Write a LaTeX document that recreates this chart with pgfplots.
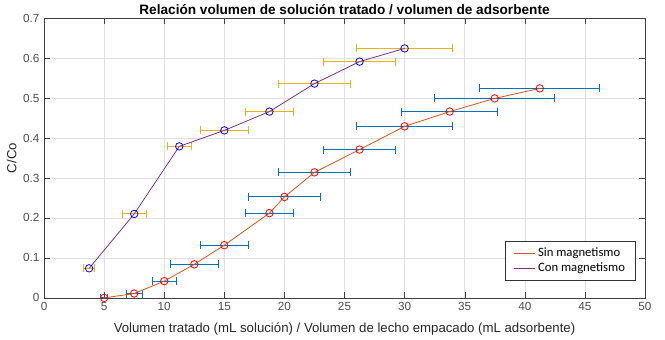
\documentclass[border=0pt]{standalone}
\usepackage{pgfplots}
\pgfplotsset{compat=1.18}
\usepackage{pgfplotstable}
\usepackage{fontspec}
\setmainfont{Liberation Sans}
\newfontfamily\legfont{Carlito}
\definecolor{morange}{rgb}{0.85,0.325,0.098}
\definecolor{mpurple}{rgb}{0.494,0.184,0.556}
\definecolor{mblue}{rgb}{0,0.447,0.741}
\definecolor{myellow}{rgb}{0.929,0.694,0.125}
\definecolor{tickgray}{RGB}{77,77,77}

\pgfplotstableread{
x y ex
5 0 0.3
7.5 0.011 0.65
10 0.042 1.0
12.5 0.084 2.0
15 0.132 2.0
18.75 0.212 2.0
20 0.2525 3.0
22.5 0.314 3.0
26.25 0.371 3.0
30 0.429 4.0
33.75 0.466 4.0
37.5 0.499 5.0
41.25 0.524 5.0
}\sinmag

\pgfplotstableread{
x y ex
3.75 0.074 0.46
7.5 0.21 1.0
11.25 0.379 1.0
15 0.419 2.0
18.75 0.466 2.0
22.5 0.536 3.0
26.25 0.591 3.0
30 0.624 4.0
}\conmag

\begin{document}
\begin{tikzpicture}
\begin{axis}[
  scale only axis, width=450pt, height=209.6pt,
  xmin=0, xmax=50, ymin=0, ymax=0.7,
  xtick={0,5,...,50}, ytick={0,0.1,0.2,0.3,0.4,0.5,0.6,0.7},
  yticklabel style={/pgf/number format/fixed, /pgf/number format/precision=1},
  /pgf/number format/assume math mode=true,
  tick label style={font=\fontsize{8.8}{10}\selectfont, color=tickgray},
  axis line style={black!75},
  major tick style={black!75},
  grid=major, major grid style={black!12, line width=0.4pt},
  title={\bfseries Relación volumen de solución tratado / volumen de adsorbente},
  every axis title shift/.style={yshift=0pt},
  every axis title/.style={at={(axis description cs:0.5,1)}, anchor=center, yshift=6.5pt,
      inner sep=1pt, font=\fontsize{10.2}{12}\selectfont},
  xlabel={Volumen tratado (mL solución) / Volumen de lecho empacado (mL adsorbente)},
  ylabel={C/Co},
  every axis x label/.style={at={(axis description cs:0.5,0)}, anchor=center, yshift=-23.5pt,
      inner sep=1pt, font=\fontsize{9.9}{11}\selectfont, color=black!85},
  every axis y label/.style={at={(axis description cs:-0.0538,0.5)}, anchor=center, rotate=90,
      inner sep=1pt, font=\fontsize{9.9}{11}\selectfont, color=black!85},
  legend style={at={(axis cs:49.25,0.043)}, anchor=south east, draw=black!80,
     font=\legfont\fontsize{9.5}{11}\selectfont, inner xsep=6pt, inner ysep=3pt, row sep=-1pt},
  legend cell align=left,
  legend image code/.code={\draw[#1, mark=none] (0pt,0pt) -- (16pt,0pt);},
]
% error bars
\addplot[draw=none, mark=none, forget plot,
  error bars/.cd, x dir=both, x explicit,
  error bar style={draw=mblue, line width=0.75pt, solid},
  error mark options={draw=mblue, line width=0.75pt, mark size=3pt, rotate=90}]
  table[x=x, y=y, x error=ex] {\sinmag};
\addplot[draw=none, mark=none, forget plot,
  error bars/.cd, x dir=both, x explicit,
  error bar style={draw=myellow, line width=0.75pt, solid},
  error mark options={draw=myellow, line width=0.75pt, mark size=3pt, rotate=90}]
  table[x=x, y=y, x error=ex] {\conmag};
% lines with markers
\addplot[color=morange, line width=0.6pt, mark=o, mark size=2.8pt,
  mark options={draw=red, line width=0.6pt, solid}]
  table[x=x, y=y] {\sinmag};
\addlegendentry{Sin magnetismo}
\addplot[color=mpurple, line width=0.6pt, mark=o, mark size=2.8pt,
  mark options={draw=blue, line width=0.6pt, solid}]
  table[x=x, y=y] {\conmag};
\addlegendentry{Con magnetismo}
\end{axis}
\path (current axis.south west) ++(-33pt,-31.4pt);
\path (current axis.north east) ++(15pt,13.5pt);
\end{tikzpicture}
\end{document}
